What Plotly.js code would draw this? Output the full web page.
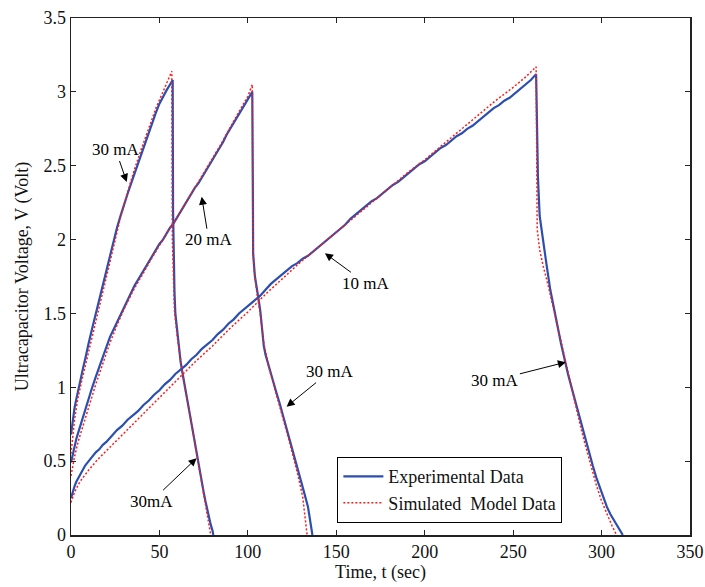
<!DOCTYPE html>
<html>
<head>
<meta charset="utf-8">
<script src="https://cdn.plot.ly/plotly-3.0.1.min.js"></script>
<style>html,body{margin:0;padding:0;background:#fff}#chart{width:705px;height:587px}</style>
</head>
<body>
<div id="chart"></div>
<script>
// ---- Experimental data (blue) ----
// Run 1: 30 mA charge, then 30 mA discharge
const exp1T = [0,1,2,3,4,5,6,7,8,9,10,12,14,16,18,20,22,24,26,28,30,32,34,36,38,40,42,44,46,48,50,52,54,56,57.5,
  57.7,58,58.5,59,60,61,62,63,64,65,66,67,68,69,70,71,72,73,74,75,76,77,78,79,80,80.5];
const exp1V = [0.68,0.78,0.86,0.92,0.98,1.03,1.08,1.14,1.19,1.25,1.30,1.40,1.50,1.60,1.70,1.80,1.90,1.99,2.08,2.16,2.24,2.31,2.38,2.45,2.52,2.58,2.65,2.72,2.79,2.86,2.92,2.97,3.01,3.05,3.08,
  2.20,1.90,1.65,1.50,1.38,1.27,1.17,1.10,1.03,0.97,0.91,0.85,0.78,0.71,0.63,0.56,0.48,0.41,0.35,0.29,0.23,0.17,0.12,0.07,0.03,0.0];
// Run 2: 20 mA charge, then 30 mA discharge
const exp2T = [0,1,2,3,4,5,6,8,10,12,14,16,18,20,22,24,26,28,30,32,34,36,38,40,42,44,46,48,50,52,54,56,58,60,62,64,66,68,70,72,74,76,78,80,82,84,86,88,90,92,94,96,98,100,102,102.5,
  102.8,103,104,105,106,107,108,109,110,112,114,116,118,120,122,124,126,128,130,132,134,136,136.5];
const exp2V = [0.49,0.55,0.60,0.65,0.69,0.73,0.77,0.85,0.93,1.00,1.07,1.14,1.21,1.28,1.34,1.39,1.44,1.50,1.55,1.60,1.64,1.69,1.73,1.77,1.81,1.85,1.89,1.93,1.97,2.00,2.04,2.08,2.11,2.15,2.19,2.23,2.27,2.31,2.35,2.38,2.42,2.46,2.50,2.54,2.58,2.62,2.66,2.71,2.75,2.79,2.83,2.87,2.91,2.95,2.99,3.00,
  2.40,1.90,1.75,1.66,1.60,1.52,1.38,1.28,1.22,1.13,1.05,0.97,0.89,0.80,0.72,0.63,0.54,0.45,0.37,0.28,0.19,0.06,0.0];
// Run 3: 10 mA charge, then 30 mA discharge
const exp3T = [0,1,2,3,4,5,6,8,10,12,14,16,18,20,23,26,29,32,35,38,41,44,47,50,53,56,59,62,65,68,71,74,77,80,83,86,89,92,95,98,101,104,107,110,113,116,119,122,125,128,131,134,137,140,143,146,149,152,155,158,161,164,167,170,173,176,179,182,185,188,191,194,197,200,203,206,209,212,215,218,221,224,227,230,233,236,239,242,245,248,251,254,257,260,263,
  263.5,264,265,267,269,271,273,275,277,279,281,283,285,287,289,291,293,295,297,299,301,303,305,307,309,311,312];
const exp3V = [0.25,0.30,0.33,0.36,0.38,0.40,0.43,0.47,0.50,0.53,0.56,0.58,0.61,0.63,0.67,0.71,0.74,0.78,0.81,0.84,0.88,0.91,0.95,0.98,1.02,1.05,1.09,1.12,1.15,1.19,1.22,1.26,1.29,1.32,1.36,1.39,1.43,1.46,1.50,1.53,1.56,1.59,1.62,1.66,1.70,1.73,1.76,1.79,1.82,1.84,1.87,1.89,1.92,1.95,1.98,2.01,2.04,2.07,2.10,2.14,2.17,2.20,2.23,2.26,2.28,2.31,2.34,2.37,2.39,2.42,2.45,2.48,2.51,2.53,2.56,2.59,2.62,2.64,2.67,2.70,2.72,2.75,2.77,2.80,2.83,2.86,2.89,2.91,2.94,2.96,2.99,3.02,3.05,3.08,3.12,
  2.80,2.43,2.16,1.97,1.82,1.66,1.55,1.42,1.30,1.19,1.09,1.00,0.91,0.82,0.73,0.64,0.55,0.47,0.39,0.32,0.25,0.19,0.14,0.10,0.06,0.02,0.0];

// ---- Simulated model data (red dotted) ----
const sim1T = [0,1,2,3,4,6,8,10,12,14,16,18,20,24,28,32,36,40,44,48,52,55,57,
  57.3,57.8,58.5,60,62,64,66,68,70,72,74,76,78,79];
const sim1V = [0.55,0.68,0.78,0.86,0.93,1.04,1.14,1.25,1.35,1.46,1.56,1.66,1.76,1.96,2.15,2.32,2.48,2.62,2.76,2.89,3.00,3.08,3.14,
  2.00,1.70,1.52,1.35,1.17,1.02,0.90,0.77,0.63,0.49,0.35,0.21,0.07,0.0];
const sim2T = [0,1,2,4,6,8,10,14,18,22,26,30,35,40,45,50,55,60,65,70,75,80,85,90,95,100,102.5,
  102.8,103.5,105,107,109,112,116,120,124,128,131,133.5];
const sim2V = [0.40,0.47,0.53,0.63,0.71,0.79,0.87,1.02,1.16,1.30,1.42,1.53,1.65,1.76,1.86,1.96,2.06,2.15,2.25,2.35,2.45,2.55,2.65,2.76,2.87,2.97,3.05,
  2.00,1.80,1.65,1.50,1.30,1.13,0.96,0.79,0.61,0.42,0.26,0.0];
const sim3T = [0,2,5,10,15,20,30,40,50,60,70,80,90,100,110,120,130,140,150,160,170,180,190,200,210,220,230,240,250,257,263,
  263.3,263.6,265,267,270,273,276,279,282,285,288,291,294,297,300,303,306,308.5];
const sim3V = [0.22,0.29,0.36,0.44,0.51,0.57,0.69,0.81,0.93,1.05,1.17,1.28,1.40,1.51,1.63,1.74,1.85,1.95,2.05,2.15,2.25,2.35,2.45,2.54,2.64,2.74,2.84,2.94,3.03,3.10,3.17,
  2.60,2.07,1.93,1.82,1.68,1.52,1.37,1.21,1.05,0.89,0.74,0.60,0.46,0.34,0.23,0.14,0.06,0.0];

// ---- Annotation labels ----
const labelText = ["30 mA","20 mA","10 mA","30 mA","30 mA","30mA"];
const labelTipT = [31.5, 73.9, 143.6, 121.9, 279.8, 71.0];
const labelTipV = [2.39, 2.29, 1.907, 0.869, 1.17, 0.52];
const labelAx = [-11, 7, 41, 43, -71, -45];
const labelAy = [-32, 43, 30, -35, 18, 43];

const xTicks = [0,50,100,150,200,250,300,350];
const yTicks = [0,0.5,1,1.5,2,2.5,3,3.5];

const blue = '#2b4fb0';
const red = '#ff1a1a';
const font = '"Liberation Serif", "Times New Roman", Times, serif';

const expSets = [[exp1T,exp1V],[exp2T,exp2V],[exp3T,exp3V]];
const simSets = [[sim1T,sim1V],[sim2T,sim2V],[sim3T,sim3V]];
const traces = [];
expSets.forEach((s,i)=>{
  traces.push({x:s[0], y:s[1], type:'scatter', mode:'lines', name:'Experimental Data',
    legendgroup:'exp', showlegend:i===0, line:{color:blue, width:2.2}});
});
simSets.forEach((s,i)=>{
  traces.push({x:s[0], y:s[1], type:'scatter', mode:'lines', name:'Simulated  Model Data',
    legendgroup:'sim', showlegend:i===0, line:{color:red, width:1.5, dash:'2px,2px'}});
});

const annotations = labelText.map((t,i)=>({
  x:labelTipT[i], y:labelTipV[i], xref:'x', yref:'y', text:t, showarrow:true,
  ax:labelAx[i], ay:labelAy[i], arrowhead:2, arrowsize:1.6, arrowwidth:1, arrowcolor:'#000',
  font:{family:font, size:17, color:'#000'}
}));

const axisCommon = {showgrid:false, zeroline:false, showline:true, linecolor:'#222', linewidth:1.5,
  mirror:'ticks', ticks:'inside', ticklen:5, tickwidth:1.2, tickcolor:'#222',
  tickfont:{family:font, size:18, color:'#111'}};

const layout = {
  width:705, height:587,
  margin:{l:71, r:15, t:18, b:52},
  paper_bgcolor:'#fff', plot_bgcolor:'#fff',
  font:{family:font},
  xaxis:Object.assign({}, axisCommon, {range:[0,350], tickvals:xTicks, ticktext:xTicks.map(String),
    title:{text:'Time, t (sec)', font:{family:font, size:18, color:'#111'}, standoff:0}}),
  yaxis:Object.assign({}, axisCommon, {range:[0,3.5], tickvals:yTicks, ticktext:yTicks.map(String),
    title:{text:'Ultracapacitor Voltage, V (Volt)', font:{family:font, size:18, color:'#111'}, standoff:10}}),
  legend:{x:0.43, y:0.151, xanchor:'left', yanchor:'top', bgcolor:'#fff', bordercolor:'#000', borderwidth:1.2,
    font:{family:font, size:18, color:'#111'}, itemwidth:40, tracegroupgap:0},
  annotations:annotations,
  showlegend:true
};

Plotly.newPlot('chart', traces, layout, {staticPlot:true, displayModeBar:false});
</script>
</body>
</html>
